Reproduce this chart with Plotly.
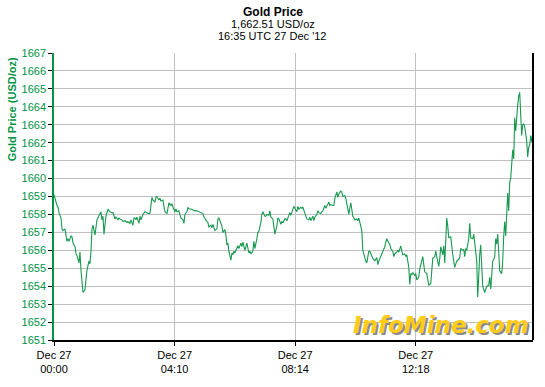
import plotly.graph_objects as go

# ---- data ----
obs = [0, 2, 3, 4, 5, 7, 8, 9, 11, 12, 13, 14, 15, 17, 18, 19, 21, 22, 23, 25,
       26, 27, 28, 29, 31, 32, 33, 35, 36, 37, 38, 39, 40, 41, 43, 44, 45, 47, 48, 49,
       50, 51, 52, 54, 55, 56, 58, 59, 61, 62, 64, 65, 66, 68, 69, 71, 73, 74, 76, 77,
       79, 80, 81, 82, 83, 85, 86, 87, 89, 90, 91, 93, 94, 96, 97, 98, 99, 101, 102, 103,
       105, 106, 107, 109, 110, 111, 113, 114, 115, 117, 118, 119, 121, 122, 123, 125, 126, 127, 129, 130,
       131, 133, 134, 135, 137, 139, 141, 143, 145, 147, 149, 150, 151, 153, 154, 155, 157, 158, 159, 161,
       163, 164, 165, 167, 168, 169, 171, 172, 173, 174, 175, 177, 178, 179, 180, 181, 183, 184, 185, 187,
       188, 189, 191, 192, 193, 195, 196, 197, 199, 200, 201, 203, 204, 205, 207, 208, 209, 211, 212, 213,
       215, 216, 217, 219, 220, 221, 223, 224, 225, 227, 228, 229, 231, 232, 233, 235, 236, 237, 239, 240,
       241, 243, 244, 245, 247, 248, 249, 251, 252, 253, 255, 256, 257, 259, 260, 261, 263, 264, 265, 267,
       268, 269, 271, 272, 273, 275, 276, 277, 279, 280, 281, 283, 284, 285, 287, 288, 289, 291, 292, 293,
       295, 296, 297, 299, 300, 301, 303, 304, 305, 307, 308, 309, 311, 312, 313, 315, 316, 317, 319, 320,
       321, 323, 324, 325, 327, 328, 329, 331, 332, 333, 335, 336, 337, 339, 340, 341, 343, 344, 345, 347,
       348, 349, 351, 352, 353, 355, 356, 357, 358, 359, 361, 362, 363, 365, 366, 367, 369, 370, 371, 373,
       374, 375, 377, 378, 379, 381, 382, 383, 385, 386, 387, 389, 390, 391, 393, 394, 395, 397, 398, 399,
       401, 402, 403, 405, 406, 407, 409, 410, 411, 412, 413, 415, 416, 417, 419, 420, 421, 423, 424, 425,
       426, 427, 428, 429, 431, 432, 433, 435, 436, 437, 439, 440, 441, 442, 443, 444, 445, 446, 448, 449,
       450, 451, 452, 453, 454, 455, 456, 457, 458, 459, 460, 461, 462, 463, 464, 465, 466, 467, 468, 469,
       470, 471, 472, 473, 474, 475, 476, 477, 478, 479]

price = [1659.1, 1658.6, 1658.5, 1658.4, 1658.1, 1657.8, 1657.2, 1657.1, 1657.2, 1656.85,
         1656.5, 1656.65, 1656.5, 1656.8, 1656.75, 1656.4, 1656.2, 1655.8, 1655.7, 1655.3,
         1655.9, 1654.9, 1654.35, 1653.65, 1653.8, 1654.35, 1654.9, 1655.4, 1655.25, 1655.95,
         1657.2, 1657.4, 1657.1, 1656.85, 1657.7, 1657.8, 1657.9, 1658.15, 1657.7, 1657.9,
         1656.9, 1657.7, 1657.9, 1658.3, 1658.2, 1658.15, 1658.1, 1658.1, 1657.75, 1657.85,
         1657.7, 1657.8, 1657.75, 1657.7, 1657.6, 1657.65, 1657.55, 1657.6, 1657.5, 1657.7,
         1657.4, 1657.8, 1657.8, 1657.7, 1657.85, 1657.5, 1657.9, 1657.7, 1658.0, 1658.1,
         1658.15, 1658.1, 1658.05, 1658.05, 1658.6, 1658.95, 1658.8, 1658.7, 1658.95, 1659.0,
         1658.8, 1658.9, 1658.75, 1658.8, 1658.45, 1658.15, 1658.05, 1658.45, 1658.65, 1658.5,
         1658.6, 1658.4, 1658.15, 1658.3, 1658.15, 1658.2, 1658.0, 1657.8, 1657.7, 1657.5,
         1658.0, 1658.15, 1658.4, 1658.3, 1658.3, 1658.25, 1658.2, 1658.2, 1658.15, 1658.1,
         1658.05, 1657.85, 1657.75, 1657.6, 1657.55, 1657.3, 1657.4, 1657.25, 1657.45, 1657.1,
         1657.2, 1657.75, 1657.8, 1657.45, 1657.35, 1657.0, 1657.15, 1656.85, 1656.3, 1656.4,
         1655.95, 1655.45, 1655.85, 1655.75, 1655.95, 1655.85, 1656.1, 1656.25, 1656.1, 1656.4,
         1656.2, 1656.45, 1656.0, 1656.3, 1656.4, 1655.85, 1655.95, 1655.8, 1655.95, 1656.5,
         1656.1, 1656.65, 1657.0, 1657.05, 1657.55, 1658.0, 1658.15, 1657.9, 1657.9, 1658.0,
         1657.95, 1658.2, 1657.85, 1657.75, 1657.4, 1656.9, 1657.35, 1657.8, 1657.75, 1657.45,
         1657.6, 1657.55, 1657.75, 1657.75, 1657.65, 1658.0, 1658.1, 1657.95, 1658.25, 1658.45,
         1658.35, 1658.15, 1658.45, 1658.3, 1658.4, 1658.35, 1658.4, 1658.1, 1657.85, 1657.75,
         1657.7, 1657.85, 1657.65, 1657.9, 1657.65, 1657.85, 1658.0, 1658.2, 1658.1, 1658.05,
         1658.15, 1658.2, 1658.5, 1658.35, 1658.45, 1658.7, 1658.5, 1658.55, 1658.5, 1658.5,
         1658.9, 1659.25, 1658.95, 1659.15, 1659.3, 1659.25, 1659.0, 1659.05, 1658.9, 1658.55,
         1658.0, 1658.35, 1658.65, 1657.9, 1657.8, 1657.7, 1657.75, 1657.65, 1657.8, 1657.35,
         1657.1, 1656.0, 1655.5, 1655.4, 1655.3, 1655.95, 1655.95, 1655.8, 1655.55, 1655.5,
         1655.4, 1655.6, 1655.2, 1655.4, 1655.65, 1655.85, 1655.9, 1656.2, 1656.45, 1656.65,
         1656.4, 1656.35, 1656.1, 1655.95, 1655.65, 1655.8, 1655.9, 1656.0, 1655.9, 1656.25,
         1655.95, 1655.75, 1655.8, 1655.65, 1655.75, 1655.05, 1654.1, 1654.7, 1654.65, 1654.75,
         1654.6, 1654.7, 1654.35, 1654.5, 1654.95, 1655.2, 1655.65, 1655.2, 1654.8, 1654.7,
         1654.35, 1654.05, 1654.15, 1654.7, 1655.55, 1655.65, 1655.95, 1655.65, 1655.1, 1655.55,
         1656.2, 1655.75, 1656.25, 1655.3, 1657.8, 1657.35, 1656.7, 1656.75, 1656.1, 1655.75,
         1655.05, 1655.2, 1655.4, 1655.5, 1655.6, 1656.1, 1656.0, 1656.05, 1655.65, 1656.1,
         1656.0, 1656.65, 1657.5, 1656.7, 1656.65, 1656.9, 1656.45, 1655.4, 1653.4, 1654.7,
         1655.75, 1656.3, 1655.05, 1654.0, 1653.65, 1653.8, 1654.0, 1654.05, 1654.5, 1653.85,
         1655.4, 1655.5, 1655.65, 1656.65, 1656.35, 1656.9, 1655.75, 1654.85, 1654.7, 1655.4,
         1656.8, 1657.6, 1656.8, 1658.2, 1659.2, 1658.2, 1659.8, 1660.0, 1660.7, 1661.6,
         1661.1, 1663.4, 1662.65, 1663.55, 1664.1, 1664.6, 1664.8, 1663.55, 1662.4, 1663.0,
         1663.05, 1662.9, 1662.4, 1662.1, 1661.2, 1661.75, 1661.85, 1662.4, 1662.05, 1662.5]

tick_pos = [0, 120.7, 241.3, 362]
tick_labels = ["Dec 27<br>00:00", "Dec 27<br>04:10", "Dec 27<br>08:14", "Dec 27<br>12:18"]
y_ticks = list(range(1651, 1668))

GREEN = "#009245"
LINE = "#17994F"
FONT = "Liberation Sans, Arial, sans-serif"

fig = go.Figure()
fig.add_trace(go.Scatter(x=obs, y=price, mode="lines",
                         line=dict(color=LINE, width=1.1), showlegend=False))

fig.update_layout(
    width=545, height=387,
    margin=dict(l=54, r=12, t=53, b=33),
    paper_bgcolor="white", plot_bgcolor="white",
    font=dict(family=FONT, size=11, color="black"),
    xaxis=dict(range=[0, 479.3], tickvals=tick_pos, ticktext=tick_labels,
               showgrid=True, gridcolor="#C0C0C0", gridwidth=1,
               showline=True, linecolor="black", linewidth=1.5,
               ticks="outside", ticklen=4, tickcolor="black",
               tickfont=dict(size=11, color="black", family=FONT), zeroline=False),
    yaxis=dict(range=[1651, 1667], tickvals=y_ticks,
               showgrid=True, gridcolor="#C0C0C0", gridwidth=1,
               showline=True, linecolor=GREEN, linewidth=1.5,
               ticks="outside", ticklen=4, tickcolor="black",
               tickfont=dict(size=11, color=GREEN, family=FONT), zeroline=False),
    shapes=[dict(type="line", xref="paper", yref="paper", x0=1, x1=1, y0=0, y1=1,
                 line=dict(color="black", width=2))],
)

annots = [
    dict(text="<b>Gold Price</b>", x=273, y=10, size=12),
    dict(text="1,662.51 USD/oz", x=273, y=23, size=11),
    dict(text="16:35 UTC 27 Dec '12", x=273, y=35.5, size=11),
]
for a in annots:
    fig.add_annotation(text=a["text"], xref="paper", yref="paper",
                       x=(a["x"] - 54) / 479.3, y=(354 - a["y"]) / 301,
                       xanchor="center", yanchor="middle", showarrow=False, borderpad=0,
                       font=dict(size=a["size"], color="black", family=FONT))

fig.add_annotation(text="<b>Gold Price (USD/oz)</b>", xref="paper", yref="paper",
                   x=(12 - 54) / 479.3, y=(354 - 112) / 301, textangle=-90,
                   xanchor="center", yanchor="middle", showarrow=False,
                   font=dict(size=11, color=GREEN, family=FONT))

# InfoMine watermark with drop shadow
fig.add_annotation(text="<b><i>InfoMine.com</i></b>", xref="paper", yref="paper",
                   x=(441 - 54) / 479.3, y=(354 - 338) / 301,
                   xanchor="center", yanchor="middle", showarrow=False,
                   font=dict(size=23, color="#FFCC1A", family="DejaVu Sans, Arial, sans-serif",
                             shadow="2px 2px 0px #8A8A8A"))

fig.write_html("out.html")
